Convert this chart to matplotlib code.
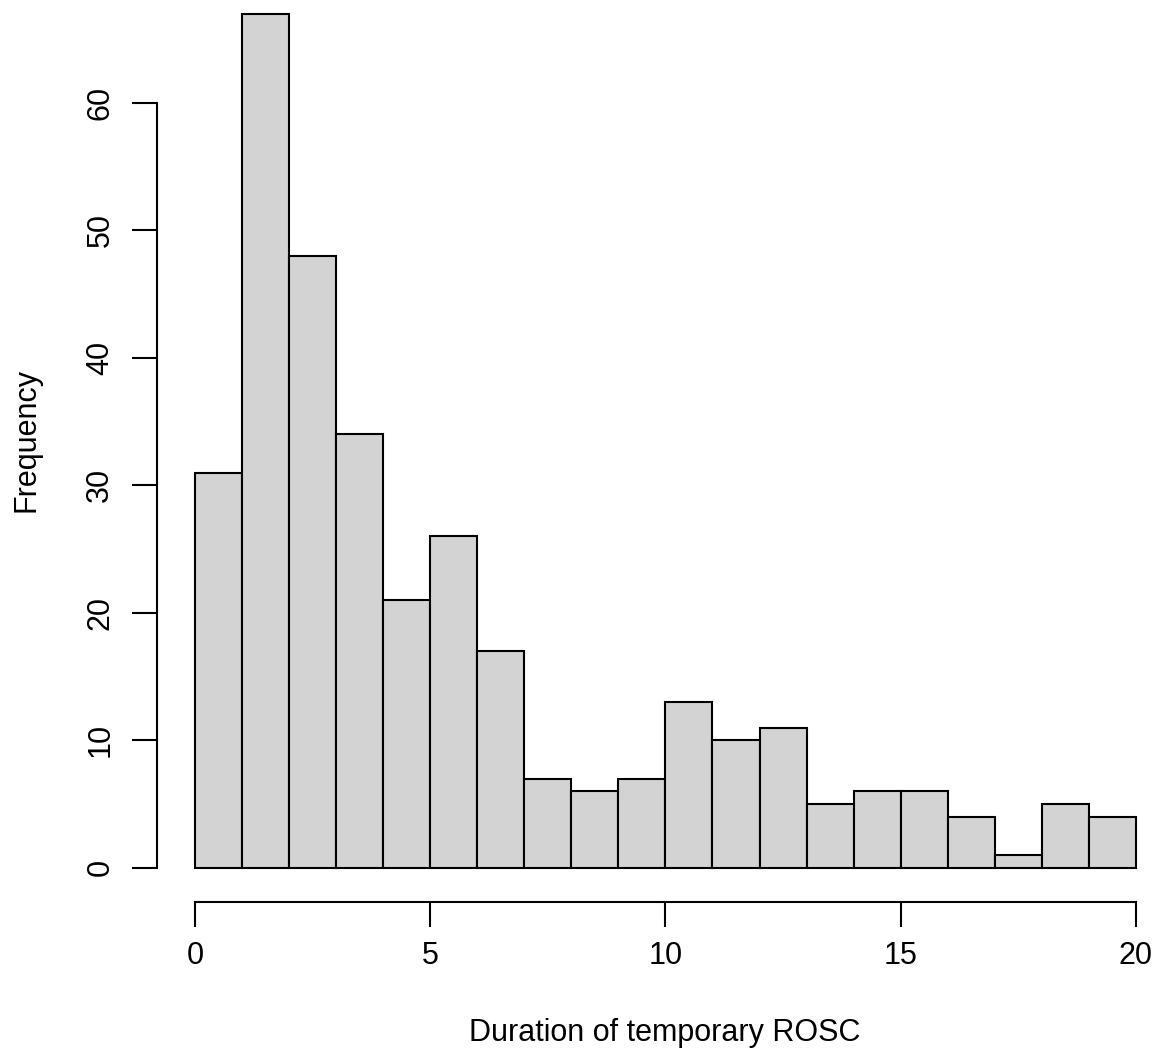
import matplotlib.pyplot as plt
import numpy as np

plt.rcParams['font.family'] = ['Liberation Sans', 'DejaVu Sans']

# histogram of ROSC durations, bins of width 1
bin_edges = list(range(0, 21))
counts = [31, 67, 48, 34, 21, 26, 17, 7, 6, 7, 13, 10, 11, 5, 6, 6, 4, 1, 5, 4]
x_ticks = [0, 5, 10, 15, 20]
y_ticks = [0, 10, 20, 30, 40, 50, 60]

W, H = 1158, 1055
fig = plt.figure(figsize=(W / 100, H / 100), dpi=100)
ax = fig.add_axes([157 / W, (H - 902) / H, (W - 157) / W, 902 / H])

ax.bar(bin_edges[:-1], counts, width=1, align='edge',
       color='#d3d3d3', edgecolor='black', linewidth=1.5)

ax.set_xlim(-0.808, 20.47)
ax.set_ylim(-2.68, 68.08)

for s in ('top', 'right'):
    ax.spines[s].set_visible(False)
ax.spines['bottom'].set_bounds(0, 20)
ax.spines['left'].set_bounds(0, 60)
for s in ('bottom', 'left'):
    ax.spines[s].set_linewidth(1.5)

ax.set_xticks(x_ticks)
ax.set_yticks(y_ticks)
ax.set_yticklabels([str(v) for v in y_ticks], rotation=90, va='center')
ax.tick_params(axis='both', length=18, width=1.5, labelsize=22, pad=10)
ax.tick_params(axis='y', pad=12)

fig.text(665 / W, 1 - 1033 / H, 'Duration of temporary ROSC',
         ha='center', va='center', fontsize=22)
fig.text(27 / W, 1 - 440 / H, 'Frequency', rotation=90,
         ha='center', va='center', fontsize=22)

fig.savefig('out.png', dpi=100)
